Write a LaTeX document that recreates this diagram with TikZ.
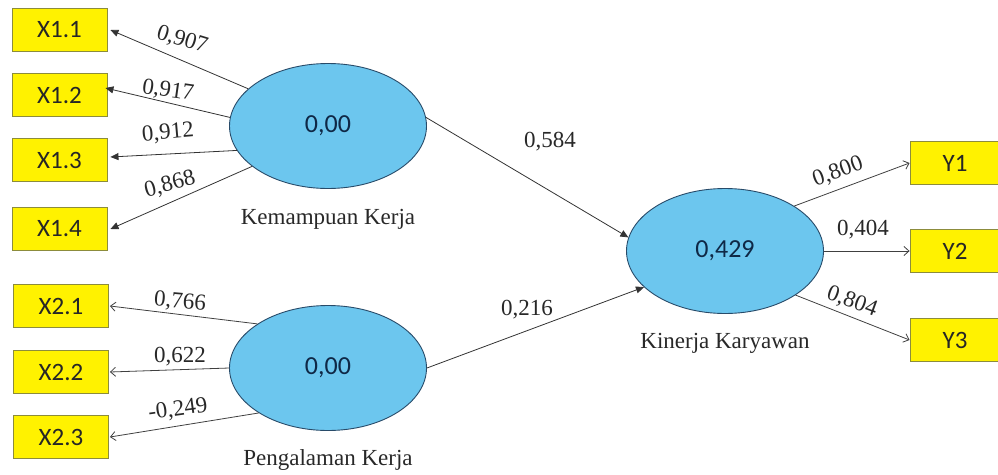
\documentclass[tikz,border=0pt]{standalone}
\usepackage{fontspec}
\setmainfont{Liberation Serif}
\newfontfamily\boxfont{Carlito}
\usetikzlibrary{shapes.geometric,arrows.meta}
\definecolor{ellfill}{RGB}{108,198,238}
\definecolor{elldraw}{RGB}{40,75,105}
\definecolor{valtext}{RGB}{15,40,70}
\definecolor{boxdraw}{RGB}{140,140,60}
\definecolor{lbl}{RGB}{40,40,40}
\begin{document}
\begin{tikzpicture}[x=1pt,y=-1pt,
  ind/.style={draw=boxdraw,line width=0.9pt,fill=yellow,minimum width=95pt,minimum height=43pt,inner sep=0pt,font=\boxfont\fontsize{25}{27}\selectfont,text=black!85},
  lat/.style={ellipse,draw=elldraw,line width=0.9pt,fill=ellfill,minimum width=197pt,minimum height=125pt,inner sep=0pt,font=\boxfont\fontsize{26}{28}\selectfont,text=valtext},
  latname/.style={font=\fontsize{23}{25}\selectfont,text=lbl},
  coef/.style={font=\fontsize{23}{25}\selectfont,text=lbl,inner sep=0pt},
  filledarr/.style={draw=black!80,line width=0.8pt,-{Triangle[length=8pt,width=7pt]}},
  openarr/.style={draw=black!75,line width=0.8pt,-{Straight Barb[length=5pt,width=9pt]}}
]
\useasboundingbox (0,0) rectangle (998,474);
% indicator boxes
\node[ind] (X11) at (59.5,30) {X1.1};
\node[ind] (X12) at (59.5,95) {X1.2};
\node[ind] (X13) at (59.5,160) {X1.3};
\node[ind] (X14) at (59.5,229) {X1.4};
\node[ind] (X21) at (61,306) {X2.1};
\node[ind] (X22) at (61,372) {X2.2};
\node[ind] (X23) at (61,437) {X2.3};
\node[ind,minimum width=90pt] (Y1) at (955,163) {Y1};
\node[ind,minimum width=90pt] (Y2) at (955,251) {Y2};
\node[ind,minimum width=90pt] (Y3) at (955,340) {Y3};
% latent variables
\node[lat] (K) at (328,126) {0,00};
\node[lat] (P) at (328,368) {0,00};
\node[lat] (Kin) at (725,251) {0,429};
\node[latname] (KL) at (328,219) {Kemampuan Kerja};
\node[latname] (PL) at (328,460) {Pengalaman Kerja};
\node[latname] (KinL) at (725,343) {Kinerja Karyawan};
% outer loadings X1
\draw[filledarr] (K.155) -- ([xshift=3pt]X11.east);
\draw[filledarr] (K.175) -- ([xshift=-2pt,yshift=7pt]X12.east);
\draw[filledarr] (K.195) -- ([xshift=3pt,yshift=3pt]X13.east);
\draw[filledarr] (K.208) -- ([xshift=3pt]X14.east);
% outer loadings X2
\draw[openarr] (P.148) -- ([xshift=1pt]X21.east);
\draw[openarr] (P.180) -- ([xshift=1pt]X22.east);
\draw[openarr] (P.213) -- ([xshift=1pt]X23.east);
% structural paths
\draw[filledarr] (K.5) -- (Kin.172);
\draw[filledarr] (P.0) -- (Kin.204);
% outer loadings Y
\draw[openarr] (Kin.33) -- (Y1.west);
\draw[openarr] (Kin.0) -- (Y2.west);
\draw[openarr] (Kin.-32) -- (Y3.west);
% coefficients
\node[coef,rotate=-17] (c1) at (182,40) {0,907};
\node[coef,rotate=-8] (c2) at (168,91) {0,917};
\node[coef,rotate=5] (c3) at (168,133) {0,912};
\node[coef,rotate=15] (c4) at (170,185) {0,868};
\node[coef,rotate=-5] (c5) at (180,302) {0,766};
\node[coef] (c6) at (180,357) {0,622};
\node[coef,rotate=8] (c7) at (178,410) {-0,249};
\node[coef] (c8) at (550,142) {0,584};
\node[coef] (c9) at (527,310) {0,216};
\node[coef,rotate=20] (c10) at (838,172) {0,800};
\node[coef] (c11) at (863,230) {0,404};
\node[coef,rotate=-20] (c12) at (852,302) {0,804};
\end{tikzpicture}
\end{document}
